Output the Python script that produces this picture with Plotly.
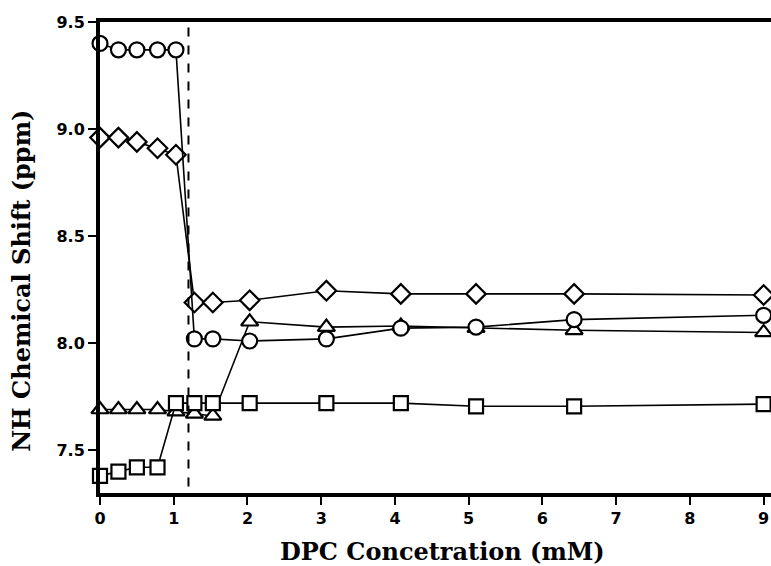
import plotly.graph_objects as go

# concentrations (mM)
x_vals = [0, 0.25, 0.5, 0.78, 1.03, 1.28, 1.53, 2.03, 3.07, 4.08, 5.1, 6.43, 9.0]

circles = [9.40, 9.37, 9.37, 9.37, 9.37, 8.02, 8.02, 8.01, 8.02, 8.07, 8.075, 8.11, 8.13]
diamonds = [8.96, 8.96, 8.94, 8.91, 8.88, 8.19, 8.19, 8.20, 8.245, 8.23, 8.23, 8.23, 8.225]
triangles = [7.69, 7.69, 7.69, 7.69, 7.68, 7.67, 7.66, 8.10, 8.075, 8.08, 8.07, 8.06, 8.05]
squares = [7.38, 7.40, 7.42, 7.42, 7.72, 7.72, 7.72, 7.72, 7.72, 7.72, 7.705, 7.705, 7.715]

x_ticks = list(range(10))
y_ticks = [7.5, 8.0, 8.5, 9.0, 9.5]
y_ticktext = ["7.5", "8.0", "8.5", "9.0", "9.5"]

cmc = 1.2

series = [
    ("triangles", triangles, "triangle-up", 15),
    ("squares", squares, "square", 14),
    ("diamonds", diamonds, "diamond", 15),
    ("circles", circles, "circle", 15),
]

fig = go.Figure()
for name, ys, sym, sz in series:
    fig.add_trace(go.Scatter(
        x=x_vals, y=ys, mode="lines+markers", name=name,
        line=dict(color="black", width=1.6),
        marker=dict(symbol=sym, size=sz, color="white",
                    line=dict(color="black", width=2.2)),
        cliponaxis=False,
    ))

fig.add_shape(type="line", xref="x", yref="y", x0=cmc, x1=cmc, y0=7.33, y1=9.5,
              line=dict(color="black", width=2, dash="dash"))

title_font = dict(family="DejaVu Serif", size=24, color="black", weight="bold")
tick_font = dict(family="DejaVu Sans", size=16, color="black", weight="bold")

fig.add_annotation(text="DPC Concetration (mM)", xref="paper", yref="paper",
                   x=0.51, y=-0.125, xanchor="center", yanchor="middle",
                   showarrow=False, font=title_font)
fig.add_annotation(text="NH Chemical Shift (ppm)", xref="paper", yref="paper",
                   x=-0.118, y=0.45, xanchor="center", yanchor="middle",
                   textangle=-90, showarrow=False, font=title_font)

fig.update_layout(
    width=771, height=566,
    margin=dict(l=100, r=0, t=22, b=73),
    plot_bgcolor="white", paper_bgcolor="white",
    showlegend=False,
    xaxis=dict(
        range=[0, 9.1], tickmode="array", tickvals=x_ticks,
        ticktext=[str(i) for i in x_ticks],
        showline=True, linewidth=4, linecolor="black", mirror=True,
        ticks="outside", ticklen=8, tickwidth=2, tickcolor="black",
        showgrid=False, zeroline=False, tickfont=tick_font,
    ),
    yaxis=dict(
        range=[7.3, 9.5], tickmode="array", tickvals=y_ticks,
        ticktext=y_ticktext,
        showline=True, linewidth=4, linecolor="black", mirror=False,
        ticks="outside", ticklen=8, tickwidth=2, tickcolor="black",
        showgrid=False, zeroline=False, tickfont=tick_font,
    ),
)

fig.write_html("out.html")
